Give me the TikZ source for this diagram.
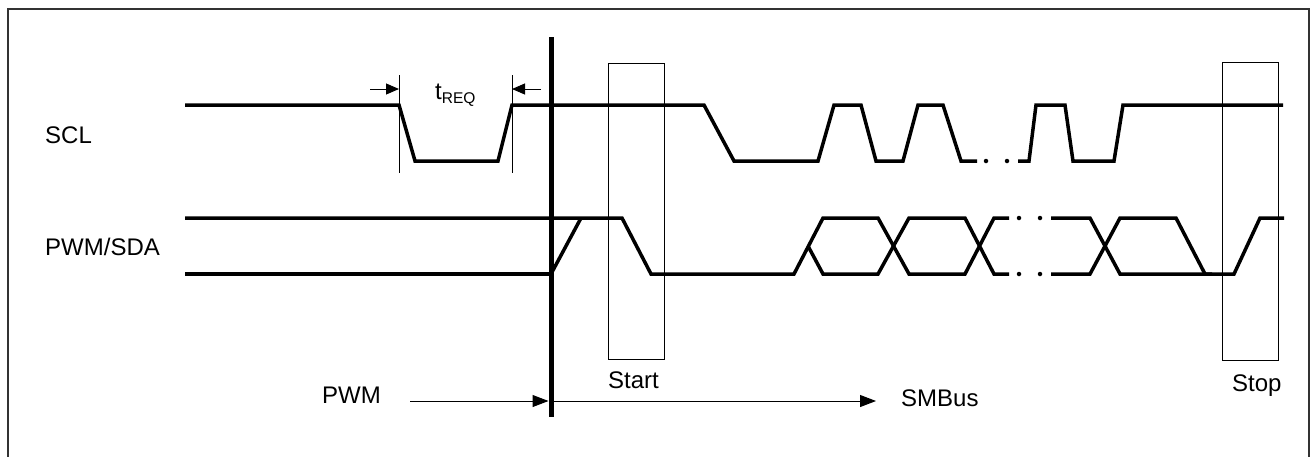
\documentclass[tikz,border=0pt]{standalone}
\usepackage{fontspec}
\setmainfont{Liberation Sans}
\usetikzlibrary{arrows.meta}
\begin{document}
\begin{tikzpicture}[x=1pt,y=-1pt,
  sig/.style={line width=3.5pt, line join=miter, line cap=butt},
  thinln/.style={line width=1pt},
  lbl/.style={font=\fontsize{24}{28}\selectfont, inner sep=0pt, anchor=base west},
  sdot/.style={fill, circle, inner sep=0pt, minimum size=4.5pt},
  bigarrow/.style={thinln, -{Triangle[length=16pt,width=12pt]}},
  smallarrow/.style={thinln, -{Triangle[length=13pt,width=11pt]}}]
\useasboundingbox (0,0) rectangle (1314,456);
% frame
\draw[line width=2pt, color=black!80] (8,462) -- (8,9) -- (1309,9) -- (1309,462);
% start / stop boxes
\draw[thinln] (608,63) rectangle (664,359);
\draw[thinln] (1222,62) rectangle (1278,360);
% labels
\node[lbl] (scl) at (45,143) {SCL};
\node[lbl] (sda) at (45,255) {PWM/SDA};
\node[lbl] (pwm) at (322,403) {PWM};
\node[lbl] (smbus) at (901,406) {SMBus};
\node[lbl] (start) at (608,388) {Start};
\node[lbl] (stop) at (1232,391) {Stop};
\node[lbl] (treq) at (435,99) {t\raisebox{-4pt}{\fontsize{15.5}{15.5}\selectfont REQ}};
% SCL waveform
\draw[sig] (185,105) -- (399,105) -- (415,161) -- (498,161) -- (512,105) -- (704,105) -- (734,161) -- (818,161) -- (834,105) -- (861,105) -- (876,161) -- (903,161) -- (918,105) -- (943,105) -- (961,161) -- (977,161);
\node[sdot] (sd1) at (986,161) {};
\node[sdot] (sd2) at (1007,161) {};
\draw[sig] (1018,161) -- (1029,161) -- (1036,105) -- (1065,105) -- (1073,161) -- (1114,161) -- (1123,105) -- (1283,105);
% PWM/SDA waveform
\draw[sig] (185,218) -- (622,218) -- (651,274) -- (794,274) -- (823,218) -- (878,218) -- (909,274) -- (965,274) -- (994,218) -- (1009,218);
\draw[sig] (185,274) -- (551,274);
\draw[sig] (551,274) -- (581,218);
\draw[sig] (808,246) -- (823,274) -- (878,274) -- (909,218) -- (965,218) -- (994,274) -- (1009,274);
\node[sdot] (dd1) at (1019,218) {};
\node[sdot] (dd2) at (1040,218) {};
\node[sdot] (dd3) at (1019,274) {};
\node[sdot] (dd4) at (1040,274) {};
\draw[sig] (1051,218) -- (1090,218) -- (1120,274) -- (1234,274) -- (1260,218) -- (1284,218);
\draw[sig] (1051,274) -- (1090,274) -- (1120,218) -- (1176,218) -- (1205,274) -- (1212,274);
% tREQ markers
\coordinate (m1t) at (399,75); \coordinate (m1b) at (399,173);
\coordinate (m2t) at (512,75); \coordinate (m2b) at (512,173);
\draw[thinln] (m1t) -- (m1b);
\draw[thinln] (m2t) -- (m2b);
\coordinate (a1s) at (370,89); \coordinate (a1e) at (399,89);
\coordinate (a2s) at (541,89); \coordinate (a2e) at (512,89);
\draw[smallarrow] (a1s) -- (a1e);
\draw[smallarrow] (a2s) -- (a2e);
% thick divider
\coordinate (divt) at (551,37);
\coordinate (divb) at (551,417);
\draw[line width=5pt] (divt) -- (divb);
% bottom arrows
\coordinate (pa) at (410,401);
\coordinate (pb) at (548.5,401);
\coordinate (sa) at (553,401);
\coordinate (sb) at (876,401);
\draw[bigarrow] (pa) -- (pb);
\draw[bigarrow] (sa) -- (sb);
\end{tikzpicture}
\end{document}
